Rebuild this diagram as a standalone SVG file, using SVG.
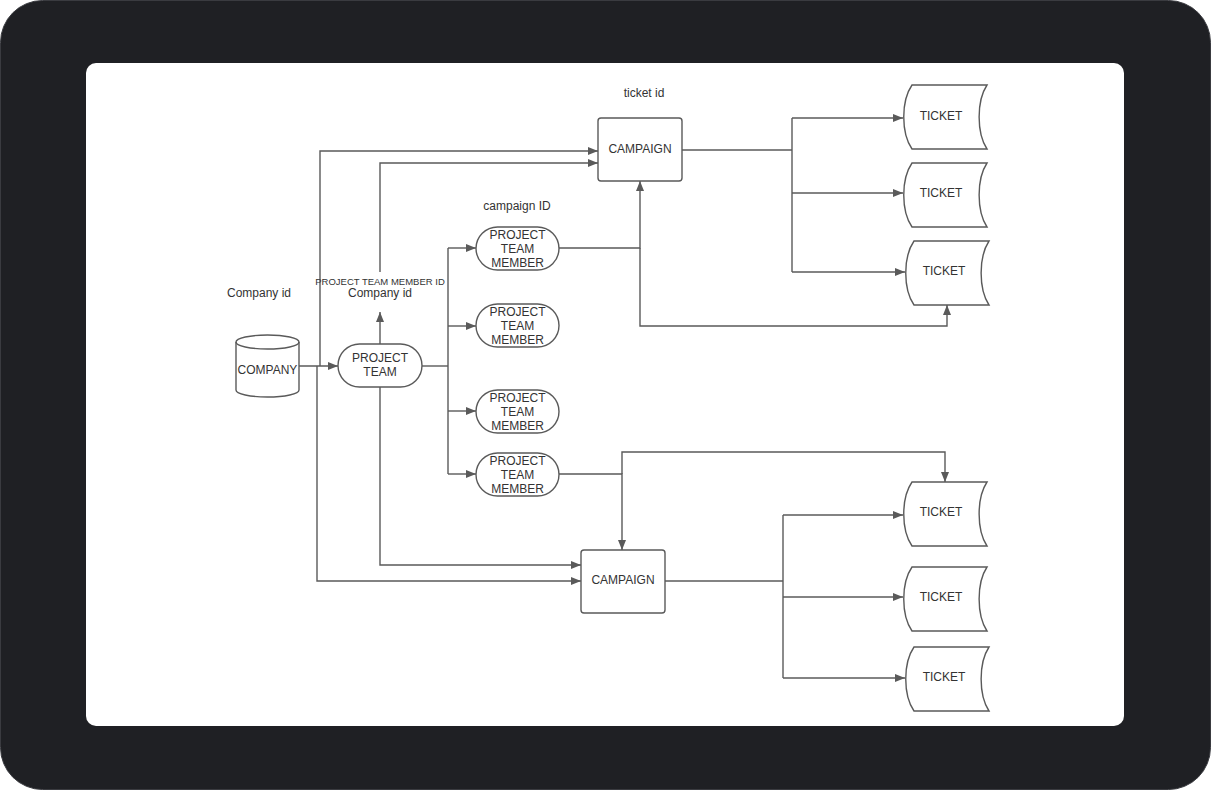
<svg xmlns="http://www.w3.org/2000/svg" width="1211" height="790" viewBox="0 0 1211 790">
<style>
.ln{fill:none;stroke:#5a5a5a;stroke-width:1.4}
.sh{fill:#fff;stroke:#5a5a5a;stroke-width:1.4}
.t{font-family:"Liberation Sans",Arial,sans-serif;font-size:12px;fill:#333;text-anchor:middle;dominant-baseline:central}
.s{font-size:9.5px}
</style>
<defs>
<marker id="ar" viewBox="0 0 10 8" refX="10" refY="4" markerWidth="10" markerHeight="8" markerUnits="userSpaceOnUse" orient="auto">
<path d="M0,0 L10,4 L0,8 Z" fill="#5a5a5a"/>
</marker>
</defs>
<rect x="0.5" y="0.5" width="1210" height="789" rx="42" fill="#1f2024" stroke="#3a3b40" stroke-width="1"/>
<rect x="86" y="63" width="1038" height="663" rx="10" fill="#fff"/>

<g id="connectors">
<path class="ln" d="M299,366 H338" marker-end="url(#ar)"/>
<path class="ln" d="M320,366 V151 H598" marker-end="url(#ar)"/>
<path class="ln" d="M317,366 V581 H581" marker-end="url(#ar)"/>
<path class="ln" d="M380,345 V312" marker-end="url(#ar)"/>
<path class="ln" d="M380,272 V163 H598" marker-end="url(#ar)"/>
<path class="ln" d="M380,387 V565 H581" marker-end="url(#ar)"/>
<path class="ln" d="M422,366 H448"/>
<path class="ln" d="M448,248 V474"/>
<path class="ln" d="M448,248 H476" marker-end="url(#ar)"/>
<path class="ln" d="M448,326 H476" marker-end="url(#ar)"/>
<path class="ln" d="M448,411 H476" marker-end="url(#ar)"/>
<path class="ln" d="M448,474 H476" marker-end="url(#ar)"/>
<path class="ln" d="M559,248 H640 V181" marker-end="url(#ar)"/>
<path class="ln" d="M640,248 V326 H947 V305" marker-end="url(#ar)"/>
<path class="ln" d="M559,474 H622 V550" marker-end="url(#ar)"/>
<path class="ln" d="M622,474 V452 H945 V482" marker-end="url(#ar)"/>
<path class="ln" d="M682,150 H792"/>
<path class="ln" d="M792,118 V272"/>
<path class="ln" d="M792,118 H903" marker-end="url(#ar)"/>
<path class="ln" d="M792,193 H903" marker-end="url(#ar)"/>
<path class="ln" d="M792,272 H905" marker-end="url(#ar)"/>
<path class="ln" d="M665,581 H783"/>
<path class="ln" d="M783,515 V678"/>
<path class="ln" d="M783,515 H903" marker-end="url(#ar)"/>
<path class="ln" d="M783,597 H903" marker-end="url(#ar)"/>
<path class="ln" d="M783,678 H905" marker-end="url(#ar)"/>
</g>

<g id="labels">
<text class="t" x="259" y="293">Company id</text>
<text class="t s" x="380" y="281">PROJECT TEAM MEMBER ID</text>
<text class="t" x="380" y="293">Company id</text>
<text class="t" x="517" y="206">campaign ID</text>
<text class="t" x="644" y="93">ticket id</text>
</g>

<g id="company">
<path class="sh" d="M236,342 A31.5,7 0 0 1 299,342 V390 A31.5,7 0 0 1 236,390 Z"/>
<path class="ln" d="M236,342 A31.5,7 0 0 0 299,342"/>
<text class="t" x="267.5" y="370">COMPANY</text>
</g>

<g id="project-team">
<rect class="sh" x="338" y="344" width="84" height="43" rx="21.5"/>
<text class="t" x="380" y="358">PROJECT</text>
<text class="t" x="380" y="372">TEAM</text>
</g>

<g id="ptm1">
<rect class="sh" x="476" y="227" width="83" height="43" rx="21.5"/>
<text class="t" x="517.5" y="235">PROJECT</text>
<text class="t" x="517.5" y="249">TEAM</text>
<text class="t" x="517.5" y="263">MEMBER</text>
</g>
<g id="ptm2">
<rect class="sh" x="476" y="304" width="83" height="43" rx="21.5"/>
<text class="t" x="517.5" y="312">PROJECT</text>
<text class="t" x="517.5" y="326">TEAM</text>
<text class="t" x="517.5" y="340">MEMBER</text>
</g>
<g id="ptm3">
<rect class="sh" x="476" y="390" width="83" height="43" rx="21.5"/>
<text class="t" x="517.5" y="398">PROJECT</text>
<text class="t" x="517.5" y="412">TEAM</text>
<text class="t" x="517.5" y="426">MEMBER</text>
</g>
<g id="ptm4">
<rect class="sh" x="476" y="453" width="83" height="43" rx="21.5"/>
<text class="t" x="517.5" y="461">PROJECT</text>
<text class="t" x="517.5" y="475">TEAM</text>
<text class="t" x="517.5" y="489">MEMBER</text>
</g>

<g id="campaign-top">
<rect class="sh" x="598" y="118" width="84" height="63" rx="3"/>
<text class="t" x="640" y="149">CAMPAIGN</text>
</g>
<g id="campaign-bottom">
<rect class="sh" x="581" y="550" width="84" height="63" rx="3"/>
<text class="t" x="623" y="580">CAMPAIGN</text>
</g>

<g id="ticket1">
<path class="sh" d="M912,85 H987 C976.5,101 976.5,133 987,149 H912 C901,133 901,101 912,85 Z"/>
<text class="t" x="941" y="116">TICKET</text>
</g>
<g id="ticket2">
<path class="sh" d="M912,163 H987 C976.5,179 976.5,211 987,227 H912 C901,211 901,179 912,163 Z"/>
<text class="t" x="941" y="193">TICKET</text>
</g>
<g id="ticket3">
<path class="sh" d="M914,241 H989 C978.5,257 978.5,289 989,305 H914 C903,289 903,257 914,241 Z"/>
<text class="t" x="944" y="271">TICKET</text>
</g>
<g id="ticket4">
<path class="sh" d="M912,482 H987 C976.5,498 976.5,530 987,546 H912 C901,530 901,498 912,482 Z"/>
<text class="t" x="941" y="512">TICKET</text>
</g>
<g id="ticket5">
<path class="sh" d="M912,567 H987 C976.5,583 976.5,615 987,631 H912 C901,615 901,583 912,567 Z"/>
<text class="t" x="941" y="597">TICKET</text>
</g>
<g id="ticket6">
<path class="sh" d="M914,647 H989 C978.5,663 978.5,695 989,711 H914 C903,695 903,663 914,647 Z"/>
<text class="t" x="944" y="677">TICKET</text>
</g>
</svg>
